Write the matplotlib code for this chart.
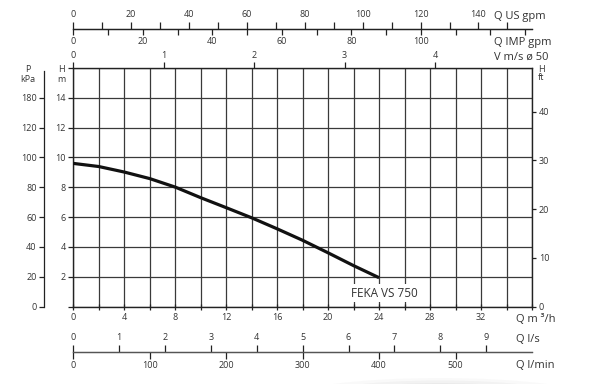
import matplotlib
matplotlib.use("Agg")
import matplotlib.pyplot as plt
from matplotlib.ticker import FixedLocator, FixedFormatter
from matplotlib.patches import Ellipse

plt.rcParams['font.family'] = ['Open Sans', 'DejaVu Sans']

# pump curve FEKA VS 750 (Q m3/h -> H m)
q_m3h = [0, 2, 4, 6, 8, 10, 12, 14, 16, 18, 20, 22, 24]
h_m = [9.6, 9.39, 9.02, 8.58, 8.01, 7.30, 6.63, 5.95, 5.21, 4.44, 3.60, 2.74, 1.93]
curve_name = "FEKA VS 750"

q_ticks = [0, 4, 8, 12, 16, 20, 24, 28, 32]
h_ticks = [2, 4, 6, 8, 10, 12, 14]
p_ticks = [0, 2, 4, 6, 8, 10, 12, 14]
p_labels = ['0', '20', '40', '60', '80', '100', '120', '180']
ft_ticks = [0, 10, 20, 30, 40]
us_gpm_ticks = [0, 20, 40, 60, 80, 100, 120, 140]
imp_gpm_ticks = [0, 20, 40, 60, 80, 100]
v_ticks = [0, 1, 2, 3, 4]
ls_ticks = [0, 1, 2, 3, 4, 5, 6, 7, 8, 9]
lmin_ticks = [0, 100, 200, 300, 400, 500]

# unit conversions from m3/h
US_GPM = 4.403
IMP_GPM = 3.666
V_DIV = 7.1        # m3/h per m/s, pipe d50
LS_DIV = 3.6
LMIN = 1000 / 60
FT = 3.06

ink = '#222222'
txt = '#333333'
fs = 6.5

fig = plt.figure(figsize=(6, 3.84), dpi=100)
ax = fig.add_axes([73.3 / 600, 1 - 306.5 / 384, (532 - 73.3) / 600, (306.5 - 68) / 384])
ax.set_xlim(0, 36)
ax.set_ylim(0, 16)

ax.set_xticks(range(0, 37, 2), minor=True)
ax.set_xticks(q_ticks)
ax.set_xticklabels([str(v) for v in q_ticks])
ax.set_yticks(range(0, 17, 2))
ax.set_yticklabels(['' if v not in h_ticks else str(v) for v in range(0, 17, 2)])
ax.grid(which='both', color='#3a3a3a', lw=0.9)
ax.set_axisbelow(True)
for s in ax.spines.values():
    s.set_color(ink)
    s.set_linewidth(1.0)
ax.tick_params(axis='x', which='both', direction='inout', length=5, width=0.9,
               color=ink, labelsize=fs, labelcolor=txt, pad=2)
ax.tick_params(axis='y', direction='out', length=3.5, width=0.9, color=ink,
               labelsize=fs, labelcolor=txt, pad=2)

ax.plot(q_m3h, h_m, color='#111111', lw=2.3, solid_capstyle='butt', zorder=3)
ax.text(24.4, 0.9, curve_name, ha='center', va='center', fontsize=8.5, color=txt,
        bbox=dict(facecolor='white', edgecolor='none', pad=1.5), zorder=4)

# right axis: H ft
axr = ax.twinx()
axr.set_ylim(0, 16 * FT)
axr.set_yticks(ft_ticks)
axr.tick_params(axis='y', direction='out', length=3, width=0.9, color=ink,
                labelsize=fs, labelcolor=txt, pad=2)
for s in axr.spines.values():
    s.set_visible(False)

# left outer axis: P kPa
axp = ax.twinx()
axp.set_ylim(0, 16)
axp.yaxis.tick_left()
axp.yaxis.set_major_locator(FixedLocator(p_ticks))
axp.yaxis.set_major_formatter(FixedFormatter(p_labels))
for k, s in axp.spines.items():
    s.set_visible(k == 'left')
axp.spines['left'].set_position(('axes', (44.3 - 73.3) / 458.7))
axp.spines['left'].set_bounds(0, 15.8)
axp.spines['left'].set_color(ink)
axp.spines['left'].set_linewidth(0.9)
axp.tick_params(axis='y', direction='out', length=3.5, width=0.9, color=ink,
                labelsize=fs, labelcolor=txt, pad=2)

# top: US gpm (up) and IMP gpm (down) on one line
top_pos = (306.5 - 29) / 238.5
us = ax.secondary_xaxis(top_pos, functions=(lambda q: q * US_GPM, lambda g: g / US_GPM))
us.xaxis.set_major_locator(FixedLocator(range(0, 151, 10)))
us.xaxis.set_major_formatter(FixedFormatter([str(v) if v in us_gpm_ticks else '' for v in range(0, 151, 10)]))
us.tick_params(direction='out', length=5, width=0.9, color=ink, labelsize=fs, labelcolor=txt, pad=2)
us.spines['top'].set_color(ink)
us.spines['top'].set_linewidth(0.9)

imp = ax.secondary_xaxis(top_pos, functions=(lambda q: q * IMP_GPM, lambda g: g / IMP_GPM))
imp.set_alignment('bottom')
imp.xaxis.set_major_locator(FixedLocator(range(0, 131, 10)))
imp.xaxis.set_major_formatter(FixedFormatter([str(v) if v in imp_gpm_ticks else '' for v in range(0, 131, 10)]))
imp.tick_params(direction='out', length=4, width=0.9, color=ink, labelsize=fs, labelcolor=txt, pad=2)
imp.spines['bottom'].set_color(ink)
imp.spines['bottom'].set_linewidth(0.9)

# top of frame: velocity in d50 pipe
vel = ax.secondary_xaxis('top', functions=(lambda q: q / V_DIV, lambda v: v * V_DIV))
vel.set_xticks(v_ticks)
vel.tick_params(direction='out', length=4, width=0.9, color=ink, labelsize=fs, labelcolor=txt, pad=2)
vel.spines['top'].set_visible(False)

# bottom: l/s (up) and l/min (down)
bot_pos = (306.5 - 351.7) / 238.5
ls = ax.secondary_xaxis(bot_pos, functions=(lambda q: q / LS_DIV, lambda v: v * LS_DIV))
ls.set_alignment('top')
ls.set_xticks(ls_ticks)
ls.tick_params(direction='out', length=5, width=0.9, color=ink, labelsize=fs, labelcolor=txt, pad=2)
ls.spines['top'].set_color('#555555')
ls.spines['top'].set_linewidth(0.9)

lmin = ax.secondary_xaxis(bot_pos, functions=(lambda q: q * LMIN, lambda v: v / LMIN))
lmin.set_xticks(lmin_ticks)
lmin.tick_params(direction='out', length=5, width=0.9, color=ink, labelsize=fs, labelcolor=txt, pad=2)
lmin.spines['bottom'].set_color('#555555')
lmin.spines['bottom'].set_linewidth(0.9)

# unit captions
cap = 8
def ftxt(x, y, s, size=cap, ha='left'):
    fig.text(x / 600, 1 - y / 384, s, fontsize=size, color=txt, ha=ha, va='center')

ftxt(494, 16, 'Q US gpm')
ftxt(494, 42, 'Q IMP gpm')
ftxt(494, 57, 'V m/s ø 50')
ftxt(516, 319, 'Q m ³/h')
ftxt(516, 340, 'Q l/s')
ftxt(516, 366, 'Q l/min')
ftxt(28, 69, 'P', fs, 'center')
ftxt(28, 80, 'kPa', fs, 'center')
ftxt(61, 69, 'H', fs, 'center')
ftxt(61, 80, 'm', fs, 'center')
ftxt(541, 69, 'H', fs, 'center')
ftxt(541, 78, 'ft', fs, 'center')

# faint shadow under the chart
for i, a in enumerate([0.04, 0.05, 0.06, 0.08, 0.1]):
    w = 300 - i * 40
    fig.patches.append(Ellipse((440 / 600, 1 - 398 / 384), w / 600, (40 - i * 5) / 384,
                               transform=fig.transFigure, facecolor='#777777',
                               edgecolor='none', alpha=a))

fig.savefig('out.png', dpi=100)
